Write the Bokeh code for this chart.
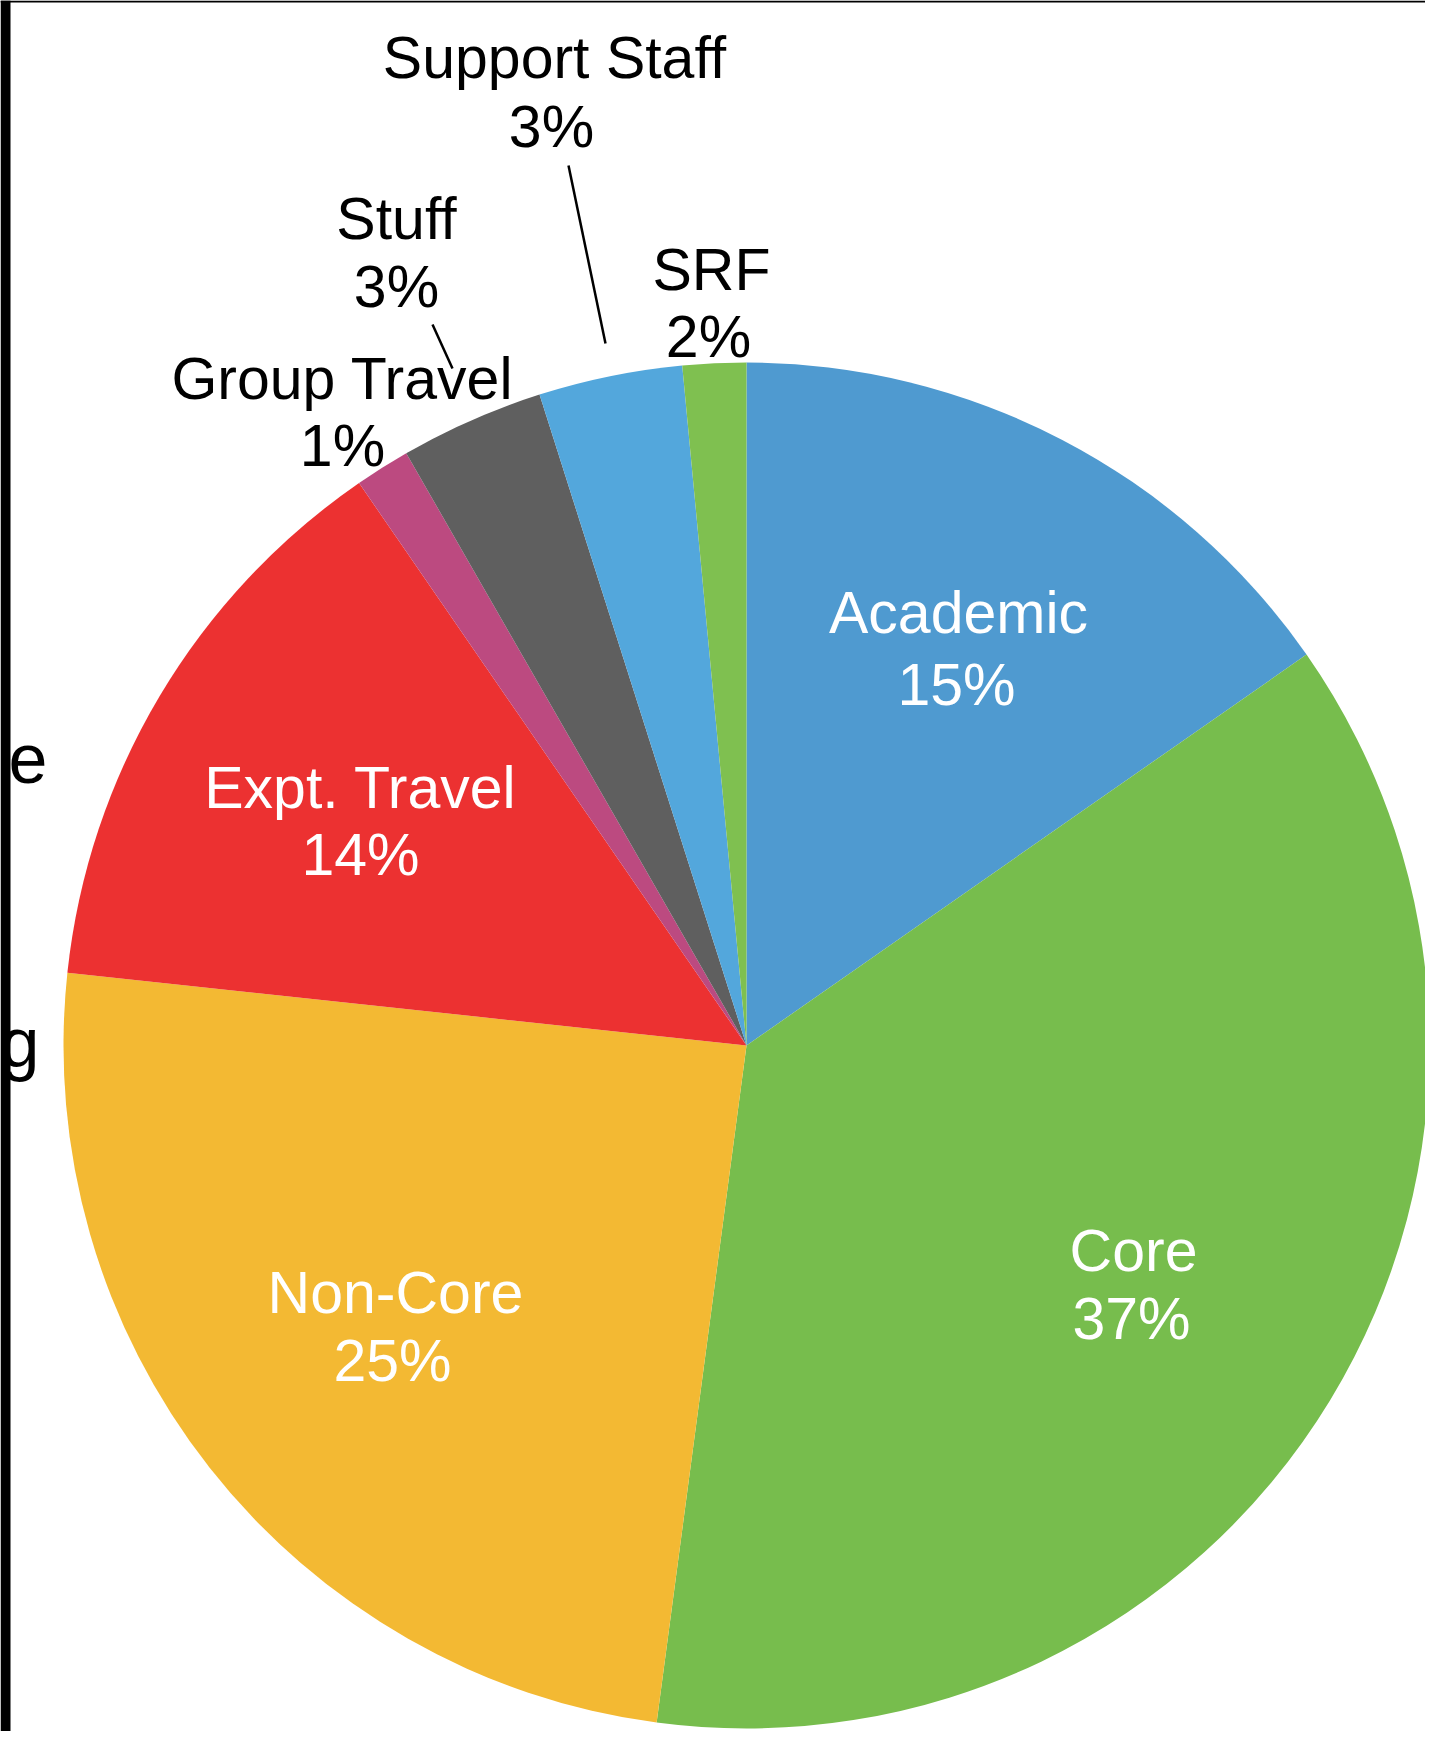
import math
from bokeh.plotting import figure
from bokeh.models import ColumnDataSource, Range1d
from bokeh.core.properties import value
from bokeh.embed import file_html
from bokeh.resources import INLINE

# ---- data ----
categories = ["Academic", "Core", "Non-Core", "Expt. Travel",
              "Group Travel", "Stuff", "Support Staff", "SRF"]
shares = [15.3, 36.8, 24.6, 13.7, 1.3, 3.4, 3.4, 1.5]
colors = ["#4F9AD0", "#77BD4D", "#F3B933", "#EC3131",
          "#BC4A80", "#5F5F5F", "#53A7DC", "#7FC050"]
pct_labels = [f"{round(v)}%" for v in shares]

# ---- layout (page pixel coordinates) ----
W, H = 1425, 1731


def P(x, y):
    """page pixel -> figure data coords (y up)"""
    return x - 8, H - (y - 8)


CX, CY = P(754, 1053)
R = 683

total = sum(shares)
starts, ends = [], []
cum = 0.0
for v in shares:
    a0 = math.pi / 2 - 2 * math.pi * cum / total
    cum += v
    a1 = math.pi / 2 - 2 * math.pi * cum / total
    starts.append(a1)
    ends.append(a0)

src = ColumnDataSource(dict(cat=categories, start=starts, end=ends, color=colors))

p = figure(width=W, height=H, x_range=Range1d(0, W), y_range=Range1d(0, H),
           output_backend="svg", toolbar_location=None,
           x_axis_location=None, y_axis_location=None, min_border=0)
p.grid.visible = False
p.outline_line_color = None
p.background_fill_color = "white"
p.border_fill_color = "white"

p.wedge(x=CX, y=CY, radius=R, start_angle="start", end_angle="end",
        fill_color="color", line_color=None, source=src)

# label positions (page px): name line center, pct line center
label_pos = {
    "Academic": ((966, 620), (964, 692), "white"),
    "Core": ((1141, 1258), (1139, 1326), "white"),
    "Non-Core": ((403, 1300), (400, 1368), "white"),
    "Expt. Travel": ((368, 795), (368, 862), "white"),
    "Group Travel": ((350, 386), (350, 453), "black"),
    "Stuff": ((404, 226), (404, 294), "black"),
    "Support Staff": ((562, 65), (559, 134), "black"),
    "SRF": ((719, 277), (716, 344), "black"),
}

tx, ty, tt, tc = [], [], [], []
for cat, pct in zip(categories, pct_labels):
    (n, q, c) = label_pos[cat]
    x, y = P(*n)
    tx.append(x); ty.append(y); tt.append(cat); tc.append(c)
    x, y = P(*q)
    tx.append(x); ty.append(y); tt.append(pct); tc.append(c)

# leader lines
for (a, b) in [((576, 173), (613, 351)), ((440, 332), (460, 376))]:
    x0, y0 = P(*a)
    x1, y1 = P(*b)
    p.line([x0, x1], [y0, y1], line_color="black", line_width=2.5)

p.text(x=tx, y=ty, text=tt, text_color=tc, text_align="center",
       text_baseline="middle", text_font=value("Liberation Sans"),
       text_font_size="59px")

# fragments of cropped text at left edge
ex, ey = P(16, 766)
gx, gy = P(8, 1050)
p.text(x=[ex, gx], y=[ey, gy], text=["e", "g"], text_color="black",
       text_align="left", text_baseline="alphabetic",
       text_font=value("Liberation Sans"), text_font_size="70px")

# black border bands (left and top)
p.quad(left=[0, 0], right=[10, W], bottom=[0, H - 2], top=[H, H],
       fill_color="black", line_color=None)

open("out.html", "w").write(file_html(p, INLINE))
